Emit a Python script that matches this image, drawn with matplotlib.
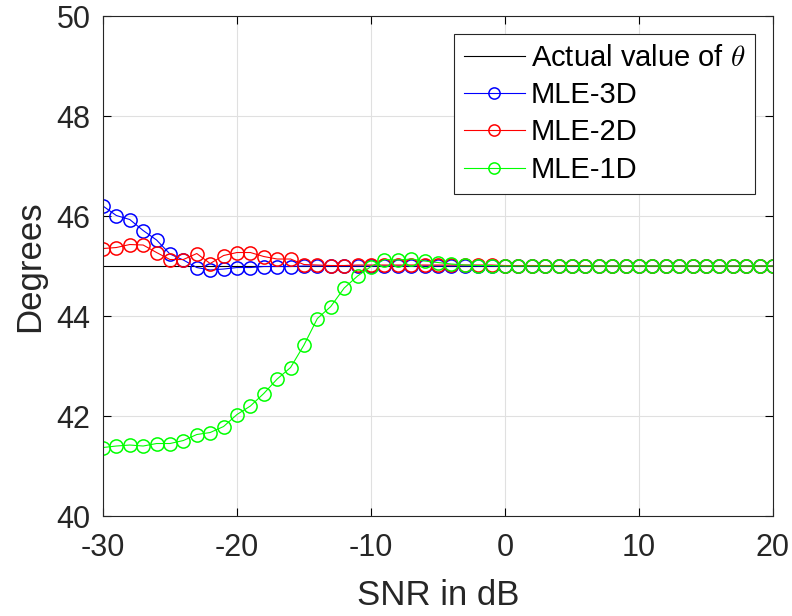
import numpy as np
import matplotlib.pyplot as plt

plt.rcParams['font.family'] = ['Liberation Sans', 'DejaVu Sans']
plt.rcParams['mathtext.fontset'] = 'cm'
plt.rcParams['axes.unicode_minus'] = False

snr = np.arange(-30, 21)
theta = 45.0

mle_3d = [46.20, 46.01, 45.93, 45.71, 45.52, 45.24, 45.12, 44.97, 44.92, 44.94,
          44.97, 44.97, 44.99, 44.99, 44.99, 45.00, 45.00, 45.00, 45.00, 45.00,
          45.00, 45.00, 45.00, 45.00, 45.00, 45.00, 45.00, 45.00, 45.00, 45.00,
          45.00, 45.00, 45.00, 45.00, 45.00, 45.00, 45.00, 45.00, 45.00, 45.00,
          45.00, 45.00, 45.00, 45.00, 45.00, 45.00, 45.00, 45.00, 45.00, 45.00,
          45.00]
mle_2d = [45.35, 45.37, 45.43, 45.42, 45.27, 45.13, 45.13, 45.25, 45.05, 45.21,
          45.27, 45.27, 45.19, 45.14, 45.14, 45.03, 45.02, 45.01, 45.01, 45.02,
          45.02, 45.02, 45.02, 45.02, 45.02, 45.02, 45.02, 45.02, 45.02, 45.02,
          45.01, 45.01, 45.01, 45.01, 45.01, 45.01, 45.01, 45.00, 45.00, 45.00,
          45.00, 45.00, 45.00, 45.00, 45.00, 45.00, 45.00, 45.00, 45.00, 45.00,
          45.00]
mle_1d = [41.37, 41.40, 41.42, 41.40, 41.45, 41.45, 41.51, 41.63, 41.67, 41.79,
          42.03, 42.20, 42.45, 42.74, 42.97, 43.42, 43.95, 44.19, 44.56, 44.80,
          44.99, 45.13, 45.12, 45.14, 45.10, 45.07, 45.04, 45.02, 45.01, 45.01,
          45.00, 45.00, 45.00, 45.00, 45.00, 45.00, 45.00, 45.00, 45.00, 45.00,
          45.00, 45.00, 45.00, 45.00, 45.00, 45.00, 45.00, 45.00, 45.00, 45.00,
          45.00]

fig = plt.figure(figsize=(7.92, 6.16), dpi=100)
ax = fig.add_axes([0.130, 0.1623, 0.846, 0.8117])

ax.plot(snr, [theta] * len(snr), color='black', linewidth=0.8, label=r'Actual value of $\theta$')
ax.plot(snr, mle_3d, color='#0000ff', linewidth=0.8, marker='o', markersize=9.5,
        markerfacecolor='none', markeredgewidth=1.1, label='MLE-3D')
ax.plot(snr, mle_2d, color='#ff0000', linewidth=0.8, marker='o', markersize=9.5,
        markerfacecolor='none', markeredgewidth=1.1, label='MLE-2D')
ax.plot(snr, mle_1d, color='#00ff00', linewidth=0.8, marker='o', markersize=9.5,
        markerfacecolor='none', markeredgewidth=1.1, label='MLE-1D')

ax.set_xlim(-30, 20)
ax.set_ylim(40, 50)
ax.set_xticks(np.arange(-30, 21, 10))
ax.set_yticks(np.arange(40, 51, 2))
ax.tick_params(direction='in', labelsize=22, length=6, top=True, right=True)
ax.tick_params(axis='x', pad=12)
ax.tick_params(axis='y', pad=9)
ax.grid(True, color='#e0e0e0', linewidth=0.8)
for s in ax.spines.values():
    s.set_linewidth(0.8)
    s.set_color('#262626')

ax.set_xlabel('SNR in dB', fontsize=25, labelpad=12, color='#262626')
ax.set_ylabel('Degrees', fontsize=25, labelpad=7, color='#262626')
ax.tick_params(labelcolor='#262626')

leg = ax.legend(loc='upper right', fontsize=21, fancybox=False, framealpha=1,
                edgecolor='#262626', borderaxespad=0.6, handlelength=2.1,
                borderpad=0.35, labelspacing=0.32, handletextpad=0.2, markerscale=0.85)
leg.get_frame().set_linewidth(0.8)

fig.savefig('out.png', dpi=100)
